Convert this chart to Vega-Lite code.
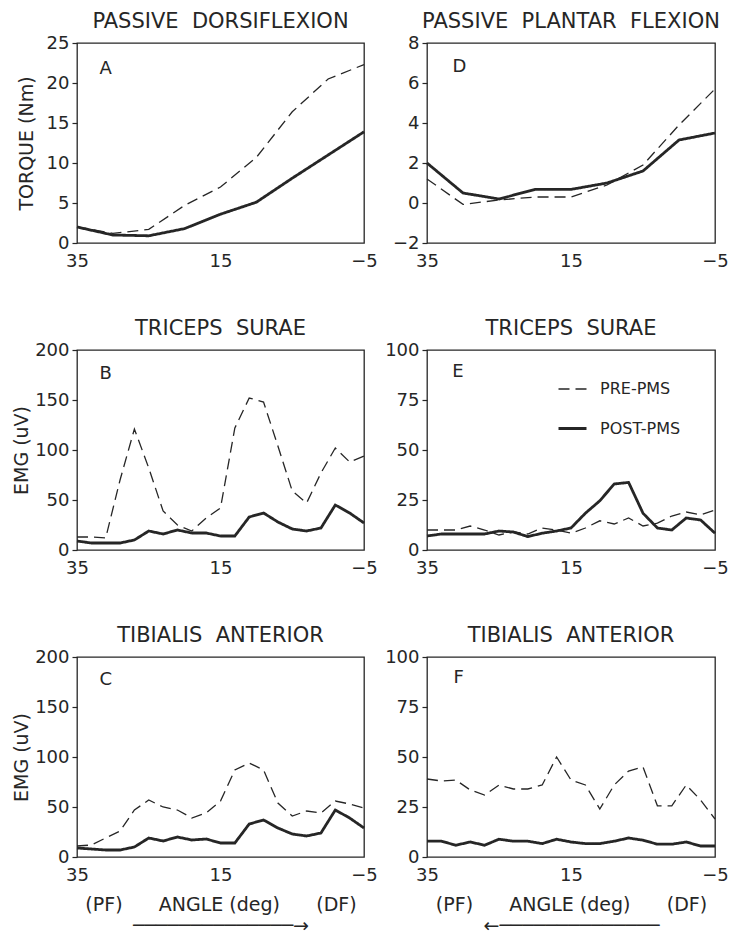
{
  "$schema": "https://vega.github.io/schema/vega-lite/v6.json",
  "background": "white",
  "padding": {"left": 11, "top": 10, "right": 5, "bottom": 0},
  "config": {
    "font": "DejaVu Sans",
    "view": {"stroke": "#262626", "strokeWidth": 1.3},
    "axis": {"grid": false, "domain": false, "labelFontSize": 18, "labelColor": "#262626", "titleColor": "#262626", "titleFontWeight": "normal", "titleFontSize": 19, "tickColor": "#262626", "tickSize": 5, "tickWidth": 1.2},
    "axisX": {"ticks": false, "labelFlush": false, "labelOverlap": false, "labelPadding": 9, "titlePadding": 11, "titleFontSize": 19, "titleLineHeight": 21},
    "axisY": {"labelPadding": 3, "titlePadding": 3},
    "title": {"fontSize": 21, "fontWeight": "normal", "color": "#262626", "offset": 2},
    "legend": {"labelColor": "#262626"}
  },
  "datasets": {
    "series": [
      {"panel":"A","angle":35,"cond":"POST-PMS","value":2.0},{"panel":"A","angle":30,"cond":"POST-PMS","value":1.0},{"panel":"A","angle":25,"cond":"POST-PMS","value":0.9},{"panel":"A","angle":20,"cond":"POST-PMS","value":1.8},{"panel":"A","angle":15,"cond":"POST-PMS","value":3.6},{"panel":"A","angle":10,"cond":"POST-PMS","value":5.1},{"panel":"A","angle":5,"cond":"POST-PMS","value":8.1},{"panel":"A","angle":0,"cond":"POST-PMS","value":11.0},{"panel":"A","angle":-5,"cond":"POST-PMS","value":13.9},
      {"panel":"A","angle":35,"cond":"PRE-PMS","value":2.0},{"panel":"A","angle":30,"cond":"PRE-PMS","value":1.2},{"panel":"A","angle":25,"cond":"PRE-PMS","value":1.7},{"panel":"A","angle":20,"cond":"PRE-PMS","value":4.7},{"panel":"A","angle":15,"cond":"PRE-PMS","value":7.0},{"panel":"A","angle":10,"cond":"PRE-PMS","value":10.7},{"panel":"A","angle":5,"cond":"PRE-PMS","value":16.4},{"panel":"A","angle":0,"cond":"PRE-PMS","value":20.5},{"panel":"A","angle":-5,"cond":"PRE-PMS","value":22.3},
      {"panel":"D","angle":35,"cond":"POST-PMS","value":2.0},{"panel":"D","angle":30,"cond":"POST-PMS","value":0.5},{"panel":"D","angle":25,"cond":"POST-PMS","value":0.2},{"panel":"D","angle":20,"cond":"POST-PMS","value":0.68},{"panel":"D","angle":15,"cond":"POST-PMS","value":0.68},{"panel":"D","angle":10,"cond":"POST-PMS","value":1.0},{"panel":"D","angle":5,"cond":"POST-PMS","value":1.6},{"panel":"D","angle":0,"cond":"POST-PMS","value":3.15},{"panel":"D","angle":-5,"cond":"POST-PMS","value":3.5},
      {"panel":"D","angle":35,"cond":"PRE-PMS","value":1.2},{"panel":"D","angle":30,"cond":"PRE-PMS","value":-0.07},{"panel":"D","angle":25,"cond":"PRE-PMS","value":0.15},{"panel":"D","angle":20,"cond":"PRE-PMS","value":0.3},{"panel":"D","angle":15,"cond":"PRE-PMS","value":0.3},{"panel":"D","angle":10,"cond":"PRE-PMS","value":0.9},{"panel":"D","angle":5,"cond":"PRE-PMS","value":1.9},{"panel":"D","angle":0,"cond":"PRE-PMS","value":3.9},{"panel":"D","angle":-5,"cond":"PRE-PMS","value":5.7},
      {"panel":"B","angle":35,"cond":"PRE-PMS","value":13},{"panel":"B","angle":33,"cond":"PRE-PMS","value":13},{"panel":"B","angle":31,"cond":"PRE-PMS","value":12},{"panel":"B","angle":29,"cond":"PRE-PMS","value":70},{"panel":"B","angle":27,"cond":"PRE-PMS","value":121},{"panel":"B","angle":25,"cond":"PRE-PMS","value":82},{"panel":"B","angle":23,"cond":"PRE-PMS","value":39},{"panel":"B","angle":21,"cond":"PRE-PMS","value":25},{"panel":"B","angle":19,"cond":"PRE-PMS","value":19},{"panel":"B","angle":17,"cond":"PRE-PMS","value":32},{"panel":"B","angle":15,"cond":"PRE-PMS","value":42},{"panel":"B","angle":13,"cond":"PRE-PMS","value":122},{"panel":"B","angle":11,"cond":"PRE-PMS","value":152},{"panel":"B","angle":9,"cond":"PRE-PMS","value":148},{"panel":"B","angle":7,"cond":"PRE-PMS","value":104},{"panel":"B","angle":5,"cond":"PRE-PMS","value":59},{"panel":"B","angle":3,"cond":"PRE-PMS","value":47},{"panel":"B","angle":1,"cond":"PRE-PMS","value":77},{"panel":"B","angle":-1,"cond":"PRE-PMS","value":102},{"panel":"B","angle":-3,"cond":"PRE-PMS","value":88},{"panel":"B","angle":-5,"cond":"PRE-PMS","value":94},
      {"panel":"B","angle":35,"cond":"POST-PMS","value":9},{"panel":"B","angle":33,"cond":"POST-PMS","value":7},{"panel":"B","angle":31,"cond":"POST-PMS","value":7},{"panel":"B","angle":29,"cond":"POST-PMS","value":7},{"panel":"B","angle":27,"cond":"POST-PMS","value":10},{"panel":"B","angle":25,"cond":"POST-PMS","value":19},{"panel":"B","angle":23,"cond":"POST-PMS","value":16},{"panel":"B","angle":21,"cond":"POST-PMS","value":20},{"panel":"B","angle":19,"cond":"POST-PMS","value":17},{"panel":"B","angle":17,"cond":"POST-PMS","value":17},{"panel":"B","angle":15,"cond":"POST-PMS","value":14},{"panel":"B","angle":13,"cond":"POST-PMS","value":14},{"panel":"B","angle":11,"cond":"POST-PMS","value":33},{"panel":"B","angle":9,"cond":"POST-PMS","value":37},{"panel":"B","angle":7,"cond":"POST-PMS","value":28},{"panel":"B","angle":5,"cond":"POST-PMS","value":21},{"panel":"B","angle":3,"cond":"POST-PMS","value":19},{"panel":"B","angle":1,"cond":"POST-PMS","value":22},{"panel":"B","angle":-1,"cond":"POST-PMS","value":45},{"panel":"B","angle":-3,"cond":"POST-PMS","value":37},{"panel":"B","angle":-5,"cond":"POST-PMS","value":27},
      {"panel":"E","angle":35,"cond":"PRE-PMS","value":10},{"panel":"E","angle":33,"cond":"PRE-PMS","value":10},{"panel":"E","angle":31,"cond":"PRE-PMS","value":10},{"panel":"E","angle":29,"cond":"PRE-PMS","value":12},{"panel":"E","angle":27,"cond":"PRE-PMS","value":10},{"panel":"E","angle":25,"cond":"PRE-PMS","value":7.5},{"panel":"E","angle":23,"cond":"PRE-PMS","value":9},{"panel":"E","angle":21,"cond":"PRE-PMS","value":8},{"panel":"E","angle":19,"cond":"PRE-PMS","value":11},{"panel":"E","angle":17,"cond":"PRE-PMS","value":10},{"panel":"E","angle":15,"cond":"PRE-PMS","value":8.4},{"panel":"E","angle":13,"cond":"PRE-PMS","value":11},{"panel":"E","angle":11,"cond":"PRE-PMS","value":14.6},{"panel":"E","angle":9,"cond":"PRE-PMS","value":13},{"panel":"E","angle":7,"cond":"PRE-PMS","value":16},{"panel":"E","angle":5,"cond":"PRE-PMS","value":12},{"panel":"E","angle":3,"cond":"PRE-PMS","value":13.4},{"panel":"E","angle":1,"cond":"PRE-PMS","value":17},{"panel":"E","angle":-1,"cond":"PRE-PMS","value":19},{"panel":"E","angle":-3,"cond":"PRE-PMS","value":17.6},{"panel":"E","angle":-5,"cond":"PRE-PMS","value":20},
      {"panel":"E","angle":35,"cond":"POST-PMS","value":7},{"panel":"E","angle":33,"cond":"POST-PMS","value":8},{"panel":"E","angle":31,"cond":"POST-PMS","value":8},{"panel":"E","angle":29,"cond":"POST-PMS","value":8},{"panel":"E","angle":27,"cond":"POST-PMS","value":8},{"panel":"E","angle":25,"cond":"POST-PMS","value":9.5},{"panel":"E","angle":23,"cond":"POST-PMS","value":9},{"panel":"E","angle":21,"cond":"POST-PMS","value":6.7},{"panel":"E","angle":19,"cond":"POST-PMS","value":8.4},{"panel":"E","angle":17,"cond":"POST-PMS","value":9.5},{"panel":"E","angle":15,"cond":"POST-PMS","value":11},{"panel":"E","angle":13,"cond":"POST-PMS","value":18.4},{"panel":"E","angle":11,"cond":"POST-PMS","value":24.6},{"panel":"E","angle":9,"cond":"POST-PMS","value":33},{"panel":"E","angle":7,"cond":"POST-PMS","value":33.8},{"panel":"E","angle":5,"cond":"POST-PMS","value":18.4},{"panel":"E","angle":3,"cond":"POST-PMS","value":11},{"panel":"E","angle":1,"cond":"POST-PMS","value":10},{"panel":"E","angle":-1,"cond":"POST-PMS","value":16},{"panel":"E","angle":-3,"cond":"POST-PMS","value":15},{"panel":"E","angle":-5,"cond":"POST-PMS","value":8.4},
      {"panel":"C","angle":35,"cond":"PRE-PMS","value":11},{"panel":"C","angle":33,"cond":"PRE-PMS","value":12},{"panel":"C","angle":31,"cond":"PRE-PMS","value":19},{"panel":"C","angle":29,"cond":"PRE-PMS","value":26},{"panel":"C","angle":27,"cond":"PRE-PMS","value":47},{"panel":"C","angle":25,"cond":"PRE-PMS","value":57},{"panel":"C","angle":23,"cond":"PRE-PMS","value":50},{"panel":"C","angle":21,"cond":"PRE-PMS","value":47},{"panel":"C","angle":19,"cond":"PRE-PMS","value":39},{"panel":"C","angle":17,"cond":"PRE-PMS","value":44},{"panel":"C","angle":15,"cond":"PRE-PMS","value":56},{"panel":"C","angle":13,"cond":"PRE-PMS","value":87},{"panel":"C","angle":11,"cond":"PRE-PMS","value":94},{"panel":"C","angle":9,"cond":"PRE-PMS","value":87},{"panel":"C","angle":7,"cond":"PRE-PMS","value":54},{"panel":"C","angle":5,"cond":"PRE-PMS","value":41},{"panel":"C","angle":3,"cond":"PRE-PMS","value":46},{"panel":"C","angle":1,"cond":"PRE-PMS","value":44},{"panel":"C","angle":-1,"cond":"PRE-PMS","value":56},{"panel":"C","angle":-3,"cond":"PRE-PMS","value":53},{"panel":"C","angle":-5,"cond":"PRE-PMS","value":49},
      {"panel":"C","angle":35,"cond":"POST-PMS","value":9},{"panel":"C","angle":33,"cond":"POST-PMS","value":8},{"panel":"C","angle":31,"cond":"POST-PMS","value":7},{"panel":"C","angle":29,"cond":"POST-PMS","value":7},{"panel":"C","angle":27,"cond":"POST-PMS","value":10},{"panel":"C","angle":25,"cond":"POST-PMS","value":19},{"panel":"C","angle":23,"cond":"POST-PMS","value":16},{"panel":"C","angle":21,"cond":"POST-PMS","value":20},{"panel":"C","angle":19,"cond":"POST-PMS","value":17},{"panel":"C","angle":17,"cond":"POST-PMS","value":18},{"panel":"C","angle":15,"cond":"POST-PMS","value":14},{"panel":"C","angle":13,"cond":"POST-PMS","value":14},{"panel":"C","angle":11,"cond":"POST-PMS","value":33},{"panel":"C","angle":9,"cond":"POST-PMS","value":37},{"panel":"C","angle":7,"cond":"POST-PMS","value":29},{"panel":"C","angle":5,"cond":"POST-PMS","value":23},{"panel":"C","angle":3,"cond":"POST-PMS","value":21},{"panel":"C","angle":1,"cond":"POST-PMS","value":24},{"panel":"C","angle":-1,"cond":"POST-PMS","value":47},{"panel":"C","angle":-3,"cond":"POST-PMS","value":39},{"panel":"C","angle":-5,"cond":"POST-PMS","value":29},
      {"panel":"F","angle":35,"cond":"PRE-PMS","value":39},{"panel":"F","angle":33,"cond":"PRE-PMS","value":38},{"panel":"F","angle":31,"cond":"PRE-PMS","value":38.5},{"panel":"F","angle":29,"cond":"PRE-PMS","value":33.5},{"panel":"F","angle":27,"cond":"PRE-PMS","value":31},{"panel":"F","angle":25,"cond":"PRE-PMS","value":36},{"panel":"F","angle":23,"cond":"PRE-PMS","value":34},{"panel":"F","angle":21,"cond":"PRE-PMS","value":34},{"panel":"F","angle":19,"cond":"PRE-PMS","value":36},{"panel":"F","angle":17,"cond":"PRE-PMS","value":50},{"panel":"F","angle":15,"cond":"PRE-PMS","value":38.5},{"panel":"F","angle":13,"cond":"PRE-PMS","value":36},{"panel":"F","angle":11,"cond":"PRE-PMS","value":24},{"panel":"F","angle":9,"cond":"PRE-PMS","value":36},{"panel":"F","angle":7,"cond":"PRE-PMS","value":43},{"panel":"F","angle":5,"cond":"PRE-PMS","value":45},{"panel":"F","angle":3,"cond":"PRE-PMS","value":25.6},{"panel":"F","angle":1,"cond":"PRE-PMS","value":25.6},{"panel":"F","angle":-1,"cond":"PRE-PMS","value":36},{"panel":"F","angle":-3,"cond":"PRE-PMS","value":28.5},{"panel":"F","angle":-5,"cond":"PRE-PMS","value":19},
      {"panel":"F","angle":35,"cond":"POST-PMS","value":7.9},{"panel":"F","angle":33,"cond":"POST-PMS","value":7.9},{"panel":"F","angle":31,"cond":"POST-PMS","value":5.9},{"panel":"F","angle":29,"cond":"POST-PMS","value":7.5},{"panel":"F","angle":27,"cond":"POST-PMS","value":5.9},{"panel":"F","angle":25,"cond":"POST-PMS","value":8.9},{"panel":"F","angle":23,"cond":"POST-PMS","value":7.9},{"panel":"F","angle":21,"cond":"POST-PMS","value":7.9},{"panel":"F","angle":19,"cond":"POST-PMS","value":6.7},{"panel":"F","angle":17,"cond":"POST-PMS","value":8.9},{"panel":"F","angle":15,"cond":"POST-PMS","value":7.5},{"panel":"F","angle":13,"cond":"POST-PMS","value":6.7},{"panel":"F","angle":11,"cond":"POST-PMS","value":6.7},{"panel":"F","angle":9,"cond":"POST-PMS","value":7.9},{"panel":"F","angle":7,"cond":"POST-PMS","value":9.5},{"panel":"F","angle":5,"cond":"POST-PMS","value":8.4},{"panel":"F","angle":3,"cond":"POST-PMS","value":6.4},{"panel":"F","angle":1,"cond":"POST-PMS","value":6.4},{"panel":"F","angle":-1,"cond":"POST-PMS","value":7.5},{"panel":"F","angle":-3,"cond":"POST-PMS","value":5.5},{"panel":"F","angle":-5,"cond":"POST-PMS","value":5.5}
    ],
    "letters": [
      {"panel":"A","angle":31,"value":21.8,"label":"A"},
      {"panel":"D","angle":30.5,"value":6.8,"label":"D"},
      {"panel":"B","angle":31,"value":176,"label":"B"},
      {"panel":"E","angle":30.7,"value":89,"label":"E"},
      {"panel":"C","angle":31,"value":177,"label":"C"},
      {"panel":"F","angle":30.6,"value":89.5,"label":"F"}
    ]
  },
  "columns": 2,
  "spacing": {"row": 107, "column": 63},
  "bounds": "flush",
  "resolve": {
    "scale": {"strokeDash": "independent", "strokeWidth": "independent"},
    "legend": {"strokeDash": "independent", "strokeWidth": "independent"}
  },
  "concat": [
    {
      "title": {"text": "PASSIVE\u00a0\u00a0DORSIFLEXION"},
      "width": 287, "height": 200,
      "encoding": {
        "x": {"field": "angle", "type": "quantitative", "scale": {"domain": [-5, 35], "reverse": true, "nice": false, "zero": false}, "axis": {"values": [35, 15, -5], "title": null}},
        "y": {"field": "value", "type": "quantitative", "scale": {"domain": [0, 25], "nice": false, "zero": false}, "axis": {"values": [0, 5, 10, 15, 20, 25], "title": "TORQUE (Nm)", "titlePadding": 10}}
      },
      "layer": [
        {"data": {"name": "series"}, "transform": [{"filter": "datum.panel === 'A'"}], "mark": {"type": "line", "color": "#262626"},
         "encoding": {
           "strokeDash": {"field": "cond", "type": "nominal", "scale": {"domain": ["PRE-PMS", "POST-PMS"], "range": [[11, 6], [1, 0]]}, "legend": null},
           "strokeWidth": {"field": "cond", "type": "ordinal", "scale": {"domain": ["PRE-PMS", "POST-PMS"], "range": [1.3, 2.8]}, "legend": null}
         }},
        {"data": {"name": "letters"}, "transform": [{"filter": "datum.panel === 'A'"}], "mark": {"type": "text", "fontSize": 18, "color": "#262626"}, "encoding": {"text": {"field": "label"}}}
      ]
    },
    {
      "title": {"text": "PASSIVE\u00a0\u00a0PLANTAR\u00a0\u00a0FLEXION"},
      "width": 288, "height": 200,
      "encoding": {
        "x": {"field": "angle", "type": "quantitative", "scale": {"domain": [-5, 35], "reverse": true, "nice": false, "zero": false}, "axis": {"values": [35, 15, -5], "title": null}},
        "y": {"field": "value", "type": "quantitative", "scale": {"domain": [-2, 8], "nice": false, "zero": false}, "axis": {"values": [-2, 0, 2, 4, 6, 8], "title": null}}
      },
      "layer": [
        {"data": {"name": "series"}, "transform": [{"filter": "datum.panel === 'D'"}], "mark": {"type": "line", "color": "#262626"},
         "encoding": {
           "strokeDash": {"field": "cond", "type": "nominal", "scale": {"domain": ["PRE-PMS", "POST-PMS"], "range": [[11, 6], [1, 0]]}, "legend": null},
           "strokeWidth": {"field": "cond", "type": "ordinal", "scale": {"domain": ["PRE-PMS", "POST-PMS"], "range": [1.3, 2.8]}, "legend": null}
         }},
        {"data": {"name": "letters"}, "transform": [{"filter": "datum.panel === 'D'"}], "mark": {"type": "text", "fontSize": 18, "color": "#262626"}, "encoding": {"text": {"field": "label"}}}
      ]
    },
    {
      "title": {"text": "TRICEPS\u00a0\u00a0SURAE"},
      "width": 287, "height": 200,
      "encoding": {
        "x": {"field": "angle", "type": "quantitative", "scale": {"domain": [-5, 35], "reverse": true, "nice": false, "zero": false}, "axis": {"values": [35, 15, -5], "title": null}},
        "y": {"field": "value", "type": "quantitative", "scale": {"domain": [0, 200], "nice": false, "zero": false}, "axis": {"values": [0, 50, 100, 150, 200], "title": "EMG (uV)"}}
      },
      "layer": [
        {"data": {"name": "series"}, "transform": [{"filter": "datum.panel === 'B'"}], "mark": {"type": "line", "color": "#262626"},
         "encoding": {
           "strokeDash": {"field": "cond", "type": "nominal", "scale": {"domain": ["PRE-PMS", "POST-PMS"], "range": [[11, 6], [1, 0]]}, "legend": null},
           "strokeWidth": {"field": "cond", "type": "ordinal", "scale": {"domain": ["PRE-PMS", "POST-PMS"], "range": [1.3, 2.8]}, "legend": null}
         }},
        {"data": {"name": "letters"}, "transform": [{"filter": "datum.panel === 'B'"}], "mark": {"type": "text", "fontSize": 18, "color": "#262626"}, "encoding": {"text": {"field": "label"}}}
      ]
    },
    {
      "title": {"text": "TRICEPS\u00a0\u00a0SURAE"},
      "width": 288, "height": 200,
      "encoding": {
        "x": {"field": "angle", "type": "quantitative", "scale": {"domain": [-5, 35], "reverse": true, "nice": false, "zero": false}, "axis": {"values": [35, 15, -5], "title": null}},
        "y": {"field": "value", "type": "quantitative", "scale": {"domain": [0, 100], "nice": false, "zero": false}, "axis": {"values": [0, 25, 50, 75, 100], "title": null}}
      },
      "layer": [
        {"data": {"name": "series"}, "transform": [{"filter": "datum.panel === 'E'"}], "mark": {"type": "line", "color": "#262626"},
         "encoding": {
           "strokeDash": {"field": "cond", "type": "nominal", "scale": {"domain": ["PRE-PMS", "POST-PMS"], "range": [[11, 6], [1, 0]]},
             "legend": {"orient": "none", "legendX": 130, "legendY": 24, "title": null, "symbolType": "stroke", "symbolSize": 784, "symbolStrokeColor": "#262626", "labelFontSize": 16, "labelOffset": 12, "rowPadding": 16}},
           "strokeWidth": {"field": "cond", "type": "ordinal", "scale": {"domain": ["PRE-PMS", "POST-PMS"], "range": [1.3, 2.8]},
             "legend": {"orient": "none", "legendX": 130, "legendY": 24, "title": null, "symbolType": "stroke", "symbolSize": 784, "symbolStrokeColor": "#262626", "labelFontSize": 16, "labelOffset": 12, "rowPadding": 16}}
         }},
        {"data": {"name": "letters"}, "transform": [{"filter": "datum.panel === 'E'"}], "mark": {"type": "text", "fontSize": 18, "color": "#262626"}, "encoding": {"text": {"field": "label"}}}
      ]
    },
    {
      "title": {"text": "TIBIALIS\u00a0\u00a0ANTERIOR"},
      "width": 287, "height": 200,
      "encoding": {
        "x": {"field": "angle", "type": "quantitative", "scale": {"domain": [-5, 35], "reverse": true, "nice": false, "zero": false}, "axis": {"values": [35, 15, -5], "title": ["(PF)\u00a0\u00a0\u00a0\u00a0\u00a0\u00a0ANGLE (deg)\u00a0\u00a0\u00a0\u00a0\u00a0\u00a0(DF)", "\u2500\u2500\u2500\u2500\u2500\u2500\u2500\u2500\u2500\u2500\u2500\u2500\u2500\u2500\u2192\u00a0\u00a0"]}},
        "y": {"field": "value", "type": "quantitative", "scale": {"domain": [0, 200], "nice": false, "zero": false}, "axis": {"values": [0, 50, 100, 150, 200], "title": "EMG (uV)"}}
      },
      "layer": [
        {"data": {"name": "series"}, "transform": [{"filter": "datum.panel === 'C'"}], "mark": {"type": "line", "color": "#262626"},
         "encoding": {
           "strokeDash": {"field": "cond", "type": "nominal", "scale": {"domain": ["PRE-PMS", "POST-PMS"], "range": [[11, 6], [1, 0]]}, "legend": null},
           "strokeWidth": {"field": "cond", "type": "ordinal", "scale": {"domain": ["PRE-PMS", "POST-PMS"], "range": [1.3, 2.8]}, "legend": null}
         }},
        {"data": {"name": "letters"}, "transform": [{"filter": "datum.panel === 'C'"}], "mark": {"type": "text", "fontSize": 18, "color": "#262626"}, "encoding": {"text": {"field": "label"}}}
      ]
    },
    {
      "title": {"text": "TIBIALIS\u00a0\u00a0ANTERIOR"},
      "width": 288, "height": 200,
      "encoding": {
        "x": {"field": "angle", "type": "quantitative", "scale": {"domain": [-5, 35], "reverse": true, "nice": false, "zero": false}, "axis": {"values": [35, 15, -5], "title": ["(PF)\u00a0\u00a0\u00a0\u00a0\u00a0\u00a0ANGLE (deg)\u00a0\u00a0\u00a0\u00a0\u00a0\u00a0(DF)", "\u2190\u2500\u2500\u2500\u2500\u2500\u2500\u2500\u2500\u2500\u2500\u2500\u2500\u2500\u2500\u00a0"]}},
        "y": {"field": "value", "type": "quantitative", "scale": {"domain": [0, 100], "nice": false, "zero": false}, "axis": {"values": [0, 25, 50, 75, 100], "title": null}}
      },
      "layer": [
        {"data": {"name": "series"}, "transform": [{"filter": "datum.panel === 'F'"}], "mark": {"type": "line", "color": "#262626"},
         "encoding": {
           "strokeDash": {"field": "cond", "type": "nominal", "scale": {"domain": ["PRE-PMS", "POST-PMS"], "range": [[11, 6], [1, 0]]}, "legend": null},
           "strokeWidth": {"field": "cond", "type": "ordinal", "scale": {"domain": ["PRE-PMS", "POST-PMS"], "range": [1.3, 2.8]}, "legend": null}
         }},
        {"data": {"name": "letters"}, "transform": [{"filter": "datum.panel === 'F'"}], "mark": {"type": "text", "fontSize": 18, "color": "#262626"}, "encoding": {"text": {"field": "label"}}}
      ]
    }
  ]
}
